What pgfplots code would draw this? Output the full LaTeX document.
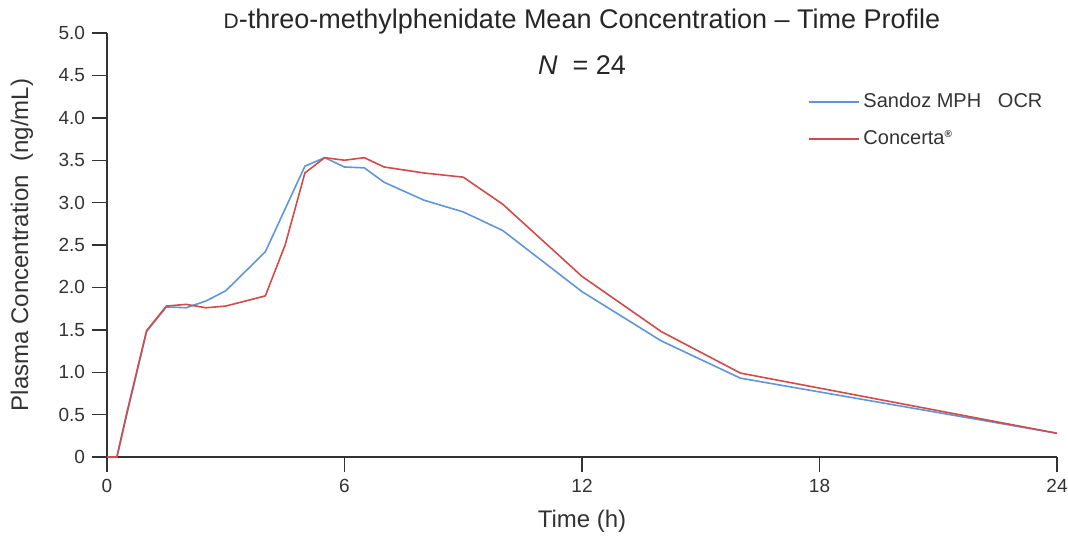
\documentclass[border=0pt]{standalone}
\usepackage{fontspec}
\setmainfont{Liberation Sans}
\usepackage{pgfplots}
\pgfplotsset{compat=1.18}
\definecolor{sandoz}{RGB}{95,150,215}
\definecolor{concerta}{RGB}{210,75,75}

\begin{document}
\begin{tikzpicture}
\useasboundingbox (-53.5pt,-40.5pt) rectangle (480.5pt,228.5pt);
\begin{axis}[
  scale only axis, width=475pt, height=212pt,
  xmin=0, xmax=24, ymin=0, ymax=5,
  axis lines=left,
  axis line style={-, black!80, line width=0.9pt},
  xtick={0,6,12,18,24},
  ytick={0,0.5,1,1.5,2,2.5,3,3.5,4,4.5,5},
  yticklabels={0,0.5,1.0,1.5,2.0,2.5,3.0,3.5,4.0,4.5,5.0},
  tick align=outside, major tick length=7.5pt,
  tick style={black!80, line width=0.7pt},
  ticklabel style={font=\fontsize{9.5}{10}\selectfont, text=black!80},
  /pgf/number format/assume math mode=true,
  xlabel={Time (h)}, ylabel={Plasma Concentration\ \ (ng/mL)},
  label style={font=\fontsize{12}{14}\selectfont, text=black!80},
  xlabel style={at={(axis description cs:0.5,-0.151)}, anchor=center},
  ylabel style={at={(axis description cs:-0.0895,0.5)}, anchor=center},
  clip=false,
  legend style={draw=none, fill=none, at={(rel axis cs:0.731,0.878)}, anchor=north west,
    font=\fontsize{10}{11}\selectfont, text=black!80, row sep=6pt},
  legend cell align=left,
  legend image code/.code={\draw[#1] (0pt,0pt) -- (25pt,0pt);},
]
\addplot[sandoz, line width=0.8pt] coordinates {
  (0,0)(0.25,0)(0.5,0.5)(1,1.48)(1.5,1.77)(2,1.76)(2.5,1.84)(3,1.96)(4,2.42)
  (5,3.43)(5.5,3.53)(6,3.42)(6.5,3.41)(7,3.24)(8,3.03)(9,2.89)(10,2.67)
  (12,1.95)(14,1.37)(16,0.93)(24,0.28)};
\addlegendentry{Sandoz MPH\ \ \ OCR}
\addplot[concerta, line width=0.8pt] coordinates {
  (0,0)(0.25,0)(0.5,0.52)(1,1.49)(1.5,1.78)(2,1.80)(2.5,1.76)(3,1.78)(4,1.90)
  (4.5,2.5)(5,3.35)(5.5,3.53)(6,3.50)(6.5,3.53)(7,3.42)(8,3.35)(9,3.30)
  (10,2.98)(12,2.13)(14,1.48)(16,0.99)(24,0.28)};
\addlegendentry{Concerta\textsuperscript{\tiny\bfseries ®}}
\node[font=\fontsize{13.5}{15}\selectfont, text=black!85] at (rel axis cs:0.5,1.026)
  {{\fontsize{10.5}{11}\selectfont D}-threo-methylphenidate Mean Concentration -- Time Profile};
\node[font=\fontsize{13.5}{15}\selectfont, text=black!85] at (rel axis cs:0.5,0.925)
  {\textit{N}\ \ =\ 24};
\end{axis}
\end{tikzpicture}
\end{document}
